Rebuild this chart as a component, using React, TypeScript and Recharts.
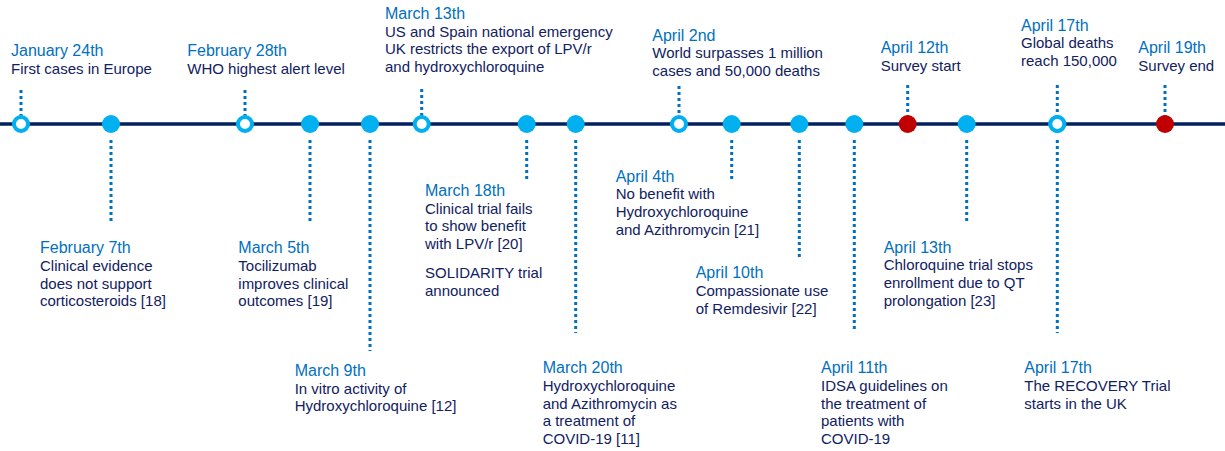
import React from 'react'
import { ComposedChart, Scatter, XAxis, YAxis, ReferenceLine } from 'recharts'

// Timeline events (order along the track)
const DATES = [
  'January 24th', 'February 7th', 'February 28th', 'March 5th', 'March 9th',
  'March 13th', 'March 18th', 'March 20th', 'April 2nd', 'April 4th',
  'April 10th', 'April 11th', 'April 12th', 'April 13th', 'April 17th',
  'April 17th', 'April 19th',
]

// '' marks a paragraph break
const DESCRIPTIONS = [
  ['First cases in Europe'],
  ['Clinical evidence', 'does not support', 'corticosteroids [18]'],
  ['WHO highest alert level'],
  ['Tocilizumab', 'improves clinical', 'outcomes [19]'],
  ['In vitro activity of', 'Hydroxychloroquine [12]'],
  ['US and Spain national emergency', 'UK restricts the export of LPV/r', 'and hydroxychloroquine'],
  ['Clinical trial fails', 'to show benefit', 'with LPV/r [20]', '', 'SOLIDARITY trial', 'announced'],
  ['Hydroxychloroquine', 'and Azithromycin as', 'a treatment of', 'COVID-19 [11]'],
  ['World surpasses 1 million', 'cases and 50,000 deaths'],
  ['No benefit with', 'Hydroxychloroquine', 'and Azithromycin [21]'],
  ['Compassionate use', 'of Remdesivir [22]'],
  ['IDSA guidelines on', 'the treatment of', 'patients with', 'COVID-19'],
  ['Survey start'],
  ['Chloroquine trial stops', 'enrollment due to QT', 'prolongation [23]'],
  ['Global deaths', 'reach 150,000'],
  ['The RECOVERY Trial', 'starts in the UK'],
  ['Survey end'],
]

// position along the (non-linear) timeline track
const POSITIONS = [21, 111, 245, 310, 370, 421.7, 526.7, 575.7, 679, 731.7, 799.3, 854.3, 907.7, 966.7, 1057.3, 1057.3, 1165]

// world = hollow, evidence = filled cyan, survey = red
const KINDS = [
  'world', 'evidence', 'world', 'evidence', 'evidence', 'world', 'evidence', 'evidence', 'world',
  'evidence', 'evidence', 'evidence', 'survey', 'evidence', 'world', 'world', 'survey',
]

// label layout: text offset from marker, date baseline offset, stem end offset
const LABEL_DX = [-10, -71, -57.7, -71.7, -75.3, -36.7, -101.7, -33, -26.7, -116, -103.6, -33.3, -27, -83, -36.3, -33, -26.7]
const LABEL_DY = [-68, 129.3, -68, 129.3, 252, -105, 72, 249.3, -83.3, 57.7, 154.3, 249.3, -70.7, 128.7, -93.3, 249.3, -70.7]
const STEM_END = [-34, 97, -34, 97, 227, -35, 55, 209, -38, 56, 133, 208, -39, 98, -39, 209, -39]

const NAVY = '#002060'
const CYAN = '#00B0F0'
const RED = '#C00000'
const BLUE = '#0070C0'
const TEXT = '#112160'
const FONT = '"Liberation Sans", Arial, sans-serif'

const data = DATES.map((date, i) => ({
  date,
  lines: DESCRIPTIONS[i],
  pos: POSITIONS[i],
  track: 0,
  kind: KINDS[i],
  dx: LABEL_DX[i],
  dy: LABEL_DY[i],
  stem: STEM_END[i],
}))

const LINE_H = 17.7
const PARA_GAP = 11

const EventMark = (props: any) => {
  const { cx, cy, payload } = props
  if (cx == null || cy == null) return null
  const up = payload.stem < 0
  const stemStart = up ? cy - 8 : cy + 16
  const stemEnd = cy + payload.stem
  const tx = cx + payload.dx
  let ty = cy + payload.dy
  const spans: React.ReactNode[] = []
  payload.lines.forEach((line: string, k: number) => {
    if (line === '') {
      ty += PARA_GAP
      return
    }
    ty += LINE_H
    spans.push(
      <tspan key={k} x={tx} y={ty}>
        {line}
      </tspan>
    )
  })
  return (
    <g>
      <line
        x1={cx}
        x2={cx}
        y1={up ? stemEnd : stemStart}
        y2={up ? stemStart : stemEnd}
        stroke={BLUE}
        strokeWidth={3}
        strokeDasharray="3 3"
      />
      {payload.kind === 'world' ? (
        <circle cx={cx} cy={cy} r={7} fill="#fff" stroke={CYAN} strokeWidth={4} />
      ) : (
        <circle cx={cx} cy={cy} r={9} fill={payload.kind === 'survey' ? RED : CYAN} />
      )}
      <text x={tx} y={cy + payload.dy} fill={BLUE} fontSize={16} fontFamily={FONT}>
        {payload.date}
      </text>
      <text fill={TEXT} fontSize={15} fontFamily={FONT}>
        {spans}
      </text>
    </g>
  )
}

export default function App() {
  return (
    <div style={{ position: 'absolute', left: 0, top: 0, width: 1225, height: 451, background: '#fff' }}>
      <ComposedChart width={1225} height={451} data={data} margin={{ top: 0, right: 0, bottom: 0, left: 0 }}>
        <XAxis type="number" dataKey="pos" domain={[0, 1225]} hide />
        <YAxis type="number" dataKey="track" domain={[-124, 327]} reversed hide />
        <ReferenceLine y={0} stroke={NAVY} strokeWidth={3.5} />
        <Scatter dataKey="track" shape={EventMark} isAnimationActive={false} />
      </ComposedChart>
    </div>
  )
}
